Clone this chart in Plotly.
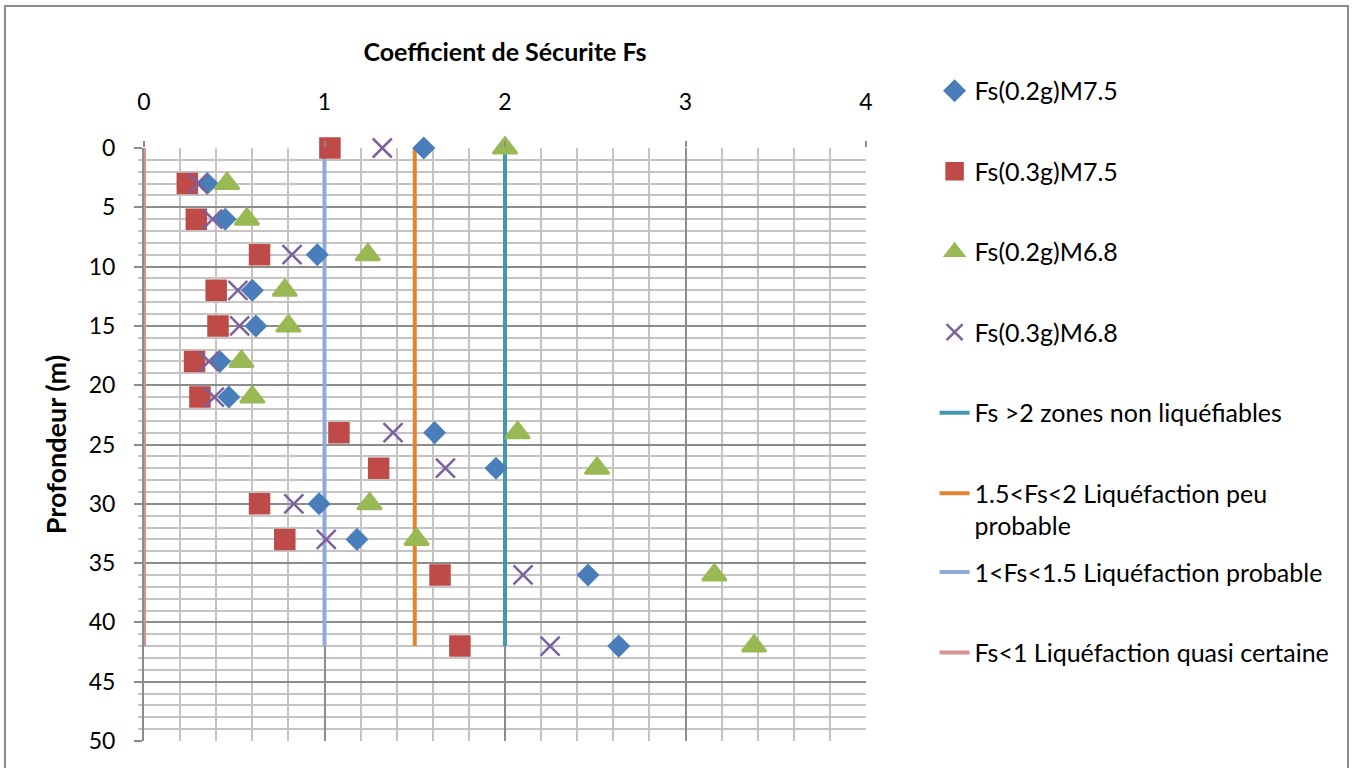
import plotly.graph_objects as go

# profondeur (m)
depth = [0, 3, 6, 9, 12, 15, 18, 21, 24, 27, 30, 33, 36, 42]

fs_02g_m75 = [1.55, 0.35, 0.45, 0.96, 0.60, 0.62, 0.42, 0.47, 1.61, 1.95, 0.97, 1.18, 2.46, 2.63]
fs_03g_m75 = [1.03, 0.24, 0.29, 0.64, 0.40, 0.41, 0.28, 0.31, 1.08, 1.30, 0.64, 0.78, 1.64, 1.75]
fs_02g_m68 = [2.00, 0.46, 0.57, 1.24, 0.78, 0.80, 0.54, 0.60, 2.07, 2.51, 1.25, 1.51, 3.16, 3.38]
fs_03g_m68 = [1.32, 0.30, 0.38, 0.82, 0.52, 0.53, 0.36, 0.39, 1.38, 1.67, 0.83, 1.01, 2.10, 2.25]

# zones limites
limit_names = ["Fs >2 zones non liquéfiables",
               "1.5<Fs<2 Liquéfaction peu<br>probable",
               "1<Fs<1.5 Liquéfaction probable",
               "Fs<1 Liquéfaction quasi certaine"]
limit_values = [2, 1.5, 1, 0]
limit_depth = [0, 42]

x_ticks = [0, 1, 2, 3, 4]
y_ticks = [0, 5, 10, 15, 20, 25, 30, 35, 40, 45, 50]

FONT = "Lato, 'Open Sans', sans-serif"

fig = go.Figure()

line_colors = ["#4298AF", "#E3822F", "#8FAAD4", "#D69292"]
for i, (name, v, c) in enumerate(zip(limit_names, limit_values, line_colors)):
    fig.add_trace(go.Scatter(
        x=[v, v], y=limit_depth, mode="lines", name=name,
        line=dict(color=c, width=4),
        legendgroup=f"l{i}", legendrank=5 + i,
        legend="legend" if i < 2 else "legend2",
    ))

series = [
    ("Fs(0.2g)M7.5", fs_02g_m75, "diamond", "#4A7EBB", 15),
    ("Fs(0.3g)M7.5", fs_03g_m75, "square", "#BE4B48", 19),
    ("Fs(0.2g)M6.8", fs_02g_m68, "triangle-up", "#98B954", 21),
    ("Fs(0.3g)M6.8", fs_03g_m68, "x-thin", "#7D60A0", 19),
]
for i, (name, xs, sym, col, size) in enumerate(series):
    fig.add_trace(go.Scatter(
        x=xs, y=depth, mode="markers", name=name,
        marker=dict(symbol=sym, color=col, size=size,
                    line=dict(color=col, width=2.5)),
        legendgroup=f"m{i}", legendrank=1 + i, cliponaxis=False,
    ))

leg = dict(x=1.095, xanchor="left", yanchor="top", tracegroupgap=45,
           valign="top", traceorder="grouped", maxheight=760,
           font=dict(size=25), bgcolor="rgba(0,0,0,0)")

fig.update_layout(
    width=1356, height=768,
    margin=dict(l=144, r=490, t=148, b=27),
    paper_bgcolor="white", plot_bgcolor="white",
    font=dict(family=FONT, size=20, color="black"),
    showlegend=True,
    legend=dict(leg, y=1.135),
    legend2=dict(leg, y=0.3234),
)

fig.update_xaxes(
    range=[0, 4], side="top", tickvals=x_ticks,
    showgrid=True, gridcolor="#8c8c8c", gridwidth=2,
    minor=dict(dtick=0.2, showgrid=True, gridcolor="#c4c4c4", gridwidth=2,
               ticks=""),
    ticks="outside", ticklen=6, tickwidth=2, tickcolor="#8c8c8c",
    ticklabelstandoff=22,
    showline=False, zeroline=False,
    tickfont=dict(size=23),
    title=dict(text="<b>Coefficient de Sécurite Fs</b>", font=dict(size=25), standoff=18),
)
fig.update_yaxes(
    range=[50, 0], tickvals=y_ticks,
    showgrid=True, gridcolor="#8c8c8c", gridwidth=2,
    minor=dict(dtick=1, showgrid=True, gridcolor="#c4c4c4", gridwidth=2,
               ticks="outside", ticklen=4, tickcolor="#c4c4c4"),
    ticks="outside", ticklen=8, tickwidth=2, tickcolor="#8c8c8c",
    ticklabelstandoff=14,
    showline=True, linecolor="#8c8c8c", linewidth=2, zeroline=False,
    tickfont=dict(size=23),
    title=dict(text="<b>Profondeur (m)</b>", font=dict(size=27), standoff=14),
)

# cadre du graphique
fig.add_shape(type="rect", xref="paper", yref="paper",
              x0=-0.1925, x1=1.6676, y0=-0.06, y1=1.2395,
              line=dict(color="#8c8c8c", width=2), layer="below")

fig.write_html("out.html", config={"displayModeBar": False},
               post_script="document.body.style.margin='0';")
